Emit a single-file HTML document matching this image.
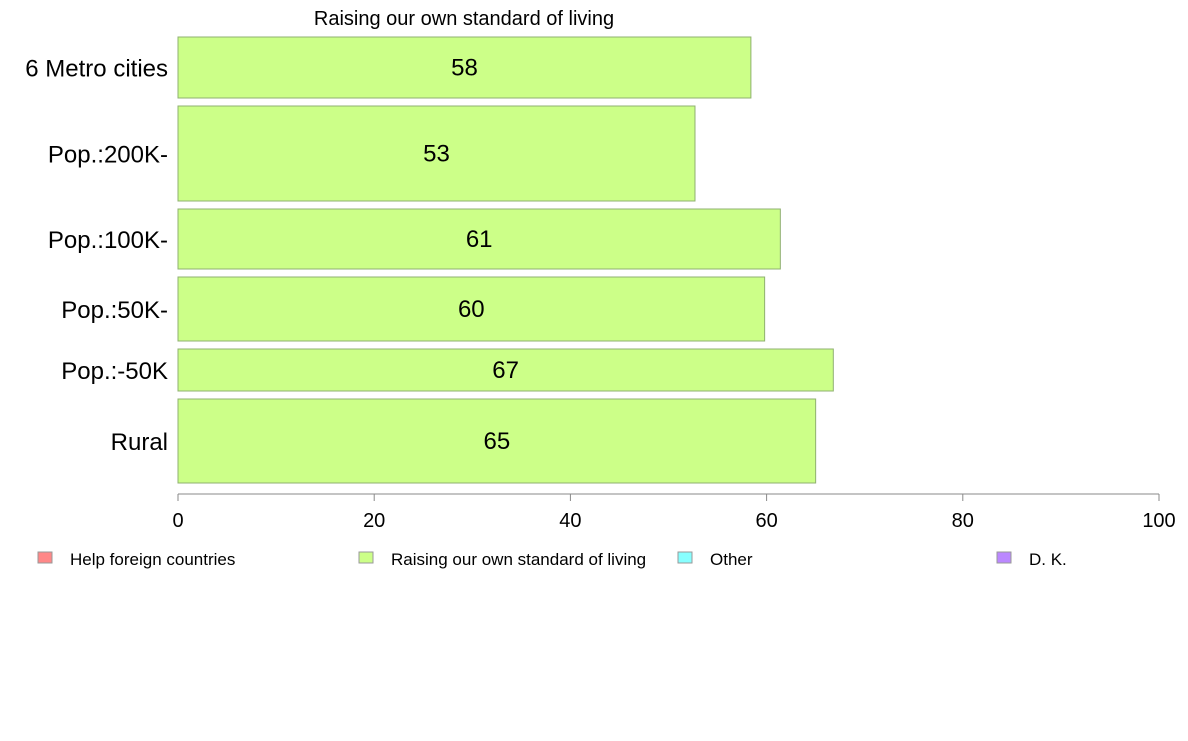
<!DOCTYPE html>
<html><head><meta charset="utf-8">
<style>
body{margin:0;background:#fff;}
svg{font-family:"Liberation Sans",Arial,sans-serif;}
</style></head>
<body>
<svg id="chart" width="1188" height="736" viewBox="0 0 1188 736" xmlns="http://www.w3.org/2000/svg">
<rect width="1188" height="736" fill="#fff"/>
<text x="464" y="25" font-size="20" text-anchor="middle">Raising our own standard of living</text>
<g id="bars"></g>
<g id="axis"></g>
<g id="legend"></g>
</svg>
<script>
const categories = ["6 Metro cities","Pop.:200K-","Pop.:100K-","Pop.:50K-","Pop.:-50K","Rural"];
const values = [58.4,52.7,61.4,59.8,66.8,65.0];
const labels = ["58","53","61","60","67","65"];
const weights = [61,95,60,64,42,84];
const ticks = [0,20,40,60,80,100];
const legendItems = ["Help foreign countries","Raising our own standard of living","Other","D. K."];
const legendColors = ["#ff8888","#ccff88","#88ffff","#bb88ff"];

const svgNS="http://www.w3.org/2000/svg";
const x0=178, x1=1159, yTop=37, gap=8;
const xs=v=>x0+(v/100)*(x1-x0);
function mk(tag,attrs,parent,txt){const e=document.createElementNS(svgNS,tag);for(const k in attrs)e.setAttribute(k,attrs[k]);if(txt!==undefined)e.textContent=txt;parent.appendChild(e);return e;}
const gb=document.getElementById('bars');
let yPos=yTop;
categories.forEach((c,i)=>{
  const h=weights[i];
  const r=mk('rect',{x:x0,y:yPos,width:xs(values[i])-x0,height:h,fill:"#ccff88",stroke:"#8fb070","stroke-width":1},gb);
  
  
  const t=mk('text',{x:(x0+xs(values[i]))/2,y:yPos+h/2+8,"font-size":24,"text-anchor":"middle"},gb,labels[i]);
  
  
  const l=mk('text',{x:168,y:yPos+h/2+9,"font-size":24,"text-anchor":"end"},gb,c);
  
  
  yPos+=h+gap;
});
const ga=document.getElementById('axis');
const ax=mk('line',{x1:x0,y1:494,x2:x1,y2:494,stroke:"#888","stroke-width":1},ga);


ticks.forEach(t=>{
  const tk=mk('line',{x1:xs(t),y1:494,x2:xs(t),y2:501,stroke:"#888"},ga);
  
  
  const tl=mk('text',{x:xs(t),y:527,"font-size":20,"text-anchor":"middle"},ga,String(t));
  
  
});
const gl=document.getElementById('legend');
const lx=[38,359,678,997];
legendItems.forEach((s,i)=>{
  const sq=mk('rect',{x:lx[i],y:552,width:14,height:11,fill:legendColors[i],stroke:"#999"},gl);
  
  
  const tx=mk('text',{x:lx[i]+32,y:565,"font-size":17},gl,s);
  
  
});
</script>
</body></html>
